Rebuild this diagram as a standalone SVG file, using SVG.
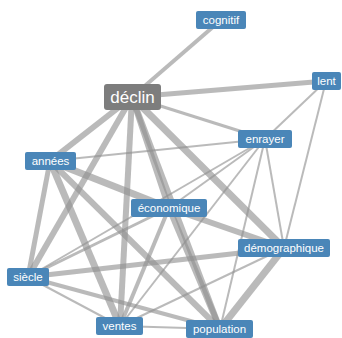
<svg xmlns="http://www.w3.org/2000/svg" width="342" height="338" viewBox="0 0 342 338">
  <style>
    .edge { stroke: #8f8f8f; stroke-opacity: 0.62; fill: none; stroke-linecap: butt; }
    .node rect { fill: #4a86b8; }
    .hub rect { fill: #7d7d7d; }
    text { font-family: "Liberation Sans", Arial, sans-serif; fill: #ffffff; text-anchor: middle; dominant-baseline: central; }
    .node text { font-size: 11.5px; }
    .hub text { font-size: 17px; }
  </style>
  <rect width="342" height="338" fill="#ffffff"/>
  <g id="edges">
    <line class="edge" x1="132" y1="97" x2="221" y2="20" stroke-width="4"/>
    <line class="edge" x1="132" y1="97" x2="326" y2="81" stroke-width="5"/>
    <line class="edge" x1="132" y1="97" x2="265" y2="139" stroke-width="3"/>
    <line class="edge" x1="132" y1="97" x2="50" y2="161" stroke-width="6"/>
    <line class="edge" x1="132" y1="97" x2="28" y2="277" stroke-width="6"/>
    <line class="edge" x1="132" y1="97" x2="120" y2="326" stroke-width="6"/>
    <line class="edge" x1="132" y1="97" x2="169" y2="208" stroke-width="6"/>
    <line class="edge" x1="132" y1="97" x2="284" y2="248" stroke-width="7"/>
    <line class="edge" x1="132" y1="97" x2="220" y2="329" stroke-width="6"/>
    <line class="edge" x1="50" y1="161" x2="265" y2="139" stroke-width="2"/>
    <line class="edge" x1="50" y1="161" x2="169" y2="208" stroke-width="7"/>
    <line class="edge" x1="50" y1="161" x2="28" y2="277" stroke-width="5"/>
    <line class="edge" x1="50" y1="161" x2="120" y2="326" stroke-width="7"/>
    <line class="edge" x1="50" y1="161" x2="220" y2="329" stroke-width="6"/>
    <line class="edge" x1="169" y1="208" x2="284" y2="248" stroke-width="6"/>
    <line class="edge" x1="28" y1="277" x2="169" y2="208" stroke-width="3"/>
    <line class="edge" x1="28" y1="277" x2="265" y2="139" stroke-width="2"/>
    <line class="edge" x1="28" y1="277" x2="284" y2="248" stroke-width="5"/>
    <line class="edge" x1="28" y1="277" x2="120" y2="326" stroke-width="2"/>
    <line class="edge" x1="28" y1="277" x2="220" y2="329" stroke-width="4"/>
    <line class="edge" x1="120" y1="326" x2="169" y2="208" stroke-width="4"/>
    <line class="edge" x1="120" y1="326" x2="265" y2="139" stroke-width="2"/>
    <line class="edge" x1="120" y1="326" x2="284" y2="248" stroke-width="2"/>
    <line class="edge" x1="120" y1="326" x2="220" y2="329" stroke-width="2"/>
    <line class="edge" x1="220" y1="329" x2="169" y2="208" stroke-width="6"/>
    <line class="edge" x1="220" y1="329" x2="284" y2="248" stroke-width="7"/>
    <line class="edge" x1="220" y1="329" x2="265" y2="139" stroke-width="2"/>
    <line class="edge" x1="265" y1="139" x2="284" y2="248" stroke-width="2"/>
    <line class="edge" x1="265" y1="139" x2="169" y2="208" stroke-width="2"/>
    <line class="edge" x1="326" y1="81" x2="265" y2="139" stroke-width="2"/>
    <line class="edge" x1="326" y1="81" x2="284" y2="248" stroke-width="2"/>
  </g>
  <g id="cognitif" class="node"><rect x="196" y="11" width="50" height="18" rx="2"/><text x="221" y="20">cognitif</text></g>
  <g id="declin" class="hub"><rect x="104" y="84" width="57" height="26" rx="3"/><text x="132.5" y="97">déclin</text></g>
  <g id="lent" class="node"><rect x="312" y="72" width="29" height="18" rx="2"/><text x="326.5" y="81">lent</text></g>
  <g id="enrayer" class="node"><rect x="238" y="130" width="54" height="18" rx="2"/><text x="265" y="139">enrayer</text></g>
  <g id="annees" class="node"><rect x="25" y="152" width="51" height="18" rx="2"/><text x="50.5" y="161">années</text></g>
  <g id="economique" class="node"><rect x="131" y="199" width="76" height="18" rx="2"/><text x="169" y="208">économique</text></g>
  <g id="demographique" class="node"><rect x="238" y="239" width="92" height="18" rx="2"/><text x="284" y="248">démographique</text></g>
  <g id="siecle" class="node"><rect x="7" y="268" width="42" height="18" rx="2"/><text x="28" y="277">siècle</text></g>
  <g id="ventes" class="node"><rect x="96" y="317" width="47" height="18" rx="2"/><text x="119.5" y="326">ventes</text></g>
  <g id="population" class="node"><rect x="186" y="320" width="67" height="18" rx="2"/><text x="219.5" y="329">population</text></g>
</svg>
